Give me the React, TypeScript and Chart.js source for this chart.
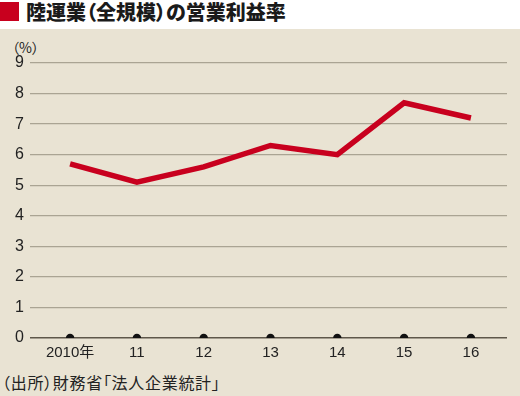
import React, { useEffect, useRef } from "react";
import { Chart, registerables } from "chart.js";

Chart.register(...registerables);

const categories = ["2010年", "11", "12", "13", "14", "15", "16"];
const operatingMargin = [5.7, 5.1, 5.6, 6.3, 6.0, 7.7, 7.2];
const baseline = [0, 0, 0, 0, 0, 0, 0];
const yTicks = [0, 1, 2, 3, 4, 5, 6, 7, 8, 9];

const TITLE = "陸運業（全規模）の営業利益率";
const UNIT = "（%）";
const SOURCE = "（出所）財務省「法人企業統計」";

const BG = "#e9e3d3";
const NUM_FONT = "'Liberation Sans', 'Noto Sans CJK JP', sans-serif";
const JP_FONT = "'Noto Sans CJK JP', 'Liberation Sans', sans-serif";

export default function App() {
  const ref = useRef<HTMLCanvasElement | null>(null);

  useEffect(() => {
    if (!ref.current) return;
    const chart = new Chart(ref.current, {
      type: "line",
      data: {
        datasets: [
          {
            data: operatingMargin.map((v, i) => ({ x: i, y: v })),
            borderColor: "#c8001e",
            borderWidth: 5.5,
            pointRadius: 0,
            tension: 0,
            borderCapStyle: "butt",
            borderJoinStyle: "miter",
            order: 2,
          },
          {
            data: baseline.map((v, i) => ({ x: i, y: v })),
            showLine: false,
            pointRadius: 4.2,
            pointBackgroundColor: "#111",
            pointBorderWidth: 0,
            order: 1,
          },
        ],
      },
      options: {
        animation: false,
        responsive: false,
        maintainAspectRatio: false,
        layout: { padding: { top: 34, right: 13, left: 0, bottom: 0 } },
        plugins: { legend: { display: false }, tooltip: { enabled: false } },
        scales: {
          x: {
            type: "linear",
            min: -0.6,
            max: 6.54,
            afterBuildTicks: (s: any) => {
              s.ticks = categories.map((_, i) => ({ value: i }));
            },
            afterFit: (s: any) => {
              s.height = 32;
            },
            ticks: {
              callback: (v: any) => categories[v as number] ?? "",
              color: "#222",
              font: { size: 15, family: NUM_FONT },
              padding: -2,
              maxRotation: 0,
              autoSkip: false,
            },
            grid: { display: false },
            border: { display: false },
          },
          y: {
            min: 0,
            max: 9,
            afterBuildTicks: (s: any) => {
              s.ticks = yTicks.map((v) => ({ value: v }));
            },
            afterFit: (s: any) => {
              s.width = 30;
            },
            ticks: {
              color: "#222",
              font: { size: 16, family: NUM_FONT },
              padding: 6,
            },
            grid: {
              drawTicks: false,
              color: (c: any) => (c.tick && c.tick.value === 0 ? "#5e574a" : "#aaa493"),
              lineWidth: (c: any) => (c.tick && c.tick.value === 0 ? 1.6 : 1.3),
            },
            border: { display: false },
          },
        },
      },
    });
    return () => chart.destroy();
  }, []);

  return (
    <div
      style={{
        position: "fixed",
        left: 0,
        top: 0,
        width: 520,
        height: 396,
        background: BG,
        overflow: "hidden",
      }}
    >
      <div
        style={{
          position: "absolute",
          left: 0,
          top: 0,
          width: 520,
          height: 29,
          background: "#fff",
        }}
      >
        <div
          style={{
            position: "absolute",
            left: 0,
            top: 2,
            width: 19,
            height: 19,
            background: "#c8001e",
          }}
        />
        <div
          style={{
            position: "absolute",
            left: 26,
            top: -2,
            fontFamily: JP_FONT,
            fontWeight: 900,
            fontSize: 20,
            lineHeight: "28px",
            color: "#1a1a1a",
            whiteSpace: "nowrap",
            fontFeatureSettings: "'palt'",
          }}
        >
          {TITLE}
        </div>
      </div>
      <div
        style={{
          position: "absolute",
          left: 12,
          top: 38,
          fontFamily: JP_FONT,
          fontSize: 14,
          lineHeight: "18px",
          color: "#222",
          whiteSpace: "nowrap",
          fontFeatureSettings: "'palt'",
        }}
      >
        {UNIT}
      </div>
      <canvas
        ref={ref}
        width={520}
        height={341}
        style={{ position: "absolute", left: 0, top: 29, width: 520, height: 341 }}
      />
      <div
        style={{
          position: "absolute",
          left: 2,
          top: 371,
          fontFamily: JP_FONT,
          fontSize: 16,
          letterSpacing: "0.7px",
          lineHeight: "22px",
          color: "#222",
          whiteSpace: "nowrap",
          fontFeatureSettings: "'palt'",
        }}
      >
        {SOURCE}
      </div>
    </div>
  );
}
